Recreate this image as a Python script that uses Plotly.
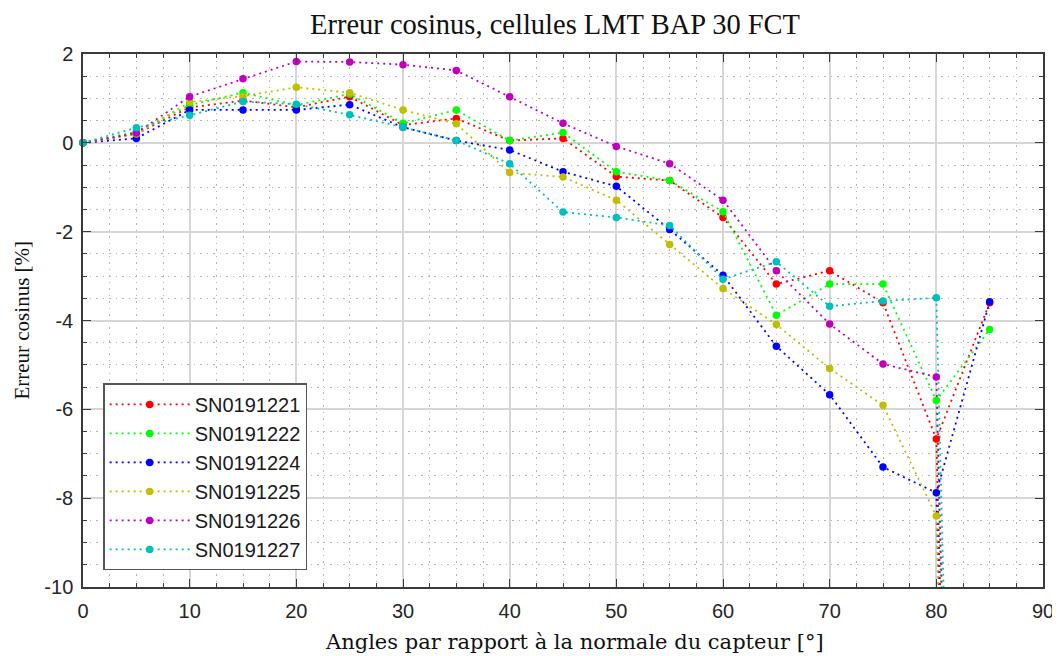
import plotly.graph_objects as go

angles = [0, 5, 10, 15, 20, 25, 30, 35, 40, 45, 50, 55, 60, 65, 70, 75, 80, 85]
sn0191221 = [0, 0.20, 0.80, 0.95, 0.80, 1.04, 0.40, 0.55, 0.05, 0.10, -0.76, -0.85, -1.68, -3.18, -2.88, -3.60, -6.67, -3.60]
sn0191222 = [0, 0.25, 0.85, 1.13, 0.85, 1.10, 0.44, 0.74, 0.05, 0.23, -0.65, -0.85, -1.55, -3.88, -3.18, -3.18, -5.80, -4.20]
sn0191224 = [0, 0.10, 0.74, 0.74, 0.74, 0.86, 0.35, 0.05, -0.16, -0.65, -0.98, -1.95, -2.98, -4.58, -5.67, -7.30, -7.88, -3.58]
sn0191225 = [0, 0.20, 0.92, 1.05, 1.25, 1.13, 0.74, 0.43, -0.67, -0.77, -1.29, -2.29, -3.28, -4.09, -5.08, -5.91, -8.40, None]
sn0191226 = [0, 0.22, 1.04, 1.44, 1.83, 1.82, 1.76, 1.63, 1.04, 0.44, -0.08, -0.47, -1.29, -2.88, -4.08, -4.98, -5.27, None]
sn0191227 = [0, 0.34, 0.62, 0.93, 0.87, 0.63, 0.35, 0.05, -0.47, -1.56, -1.68, -1.86, -3.07, -2.68, -3.68, -3.56, -3.49, None]

# value at 90° (off-scale), joined from the 80° point
angle_90 = 90
err_90 = [-100, -100, -100, -100, -100, -100]

names = ["SN0191221", "SN0191222", "SN0191224", "SN0191225", "SN0191226", "SN0191227"]
series = [sn0191221, sn0191222, sn0191224, sn0191225, sn0191226, sn0191227]
colors = ["#ff0000", "#00ff00", "#0000ff", "#bfbf00", "#bf00bf", "#00bfbf"]

x_ticks = [0, 10, 20, 30, 40, 50, 60, 70, 80, 90]
y_ticks = [2, 0, -2, -4, -6, -8, -10]
y_ticktext = ["2", "0", "-2", "-4", "-6", "-8", "-10"]

title_text = "Erreur cosinus, cellules LMT BAP 30 FCT"
x_title = "Angles par rapport à la normale du capteur [°]"
y_title = "Erreur cosinus [%]"

DOT = "2px,4px"

fig = go.Figure()

# off-scale segments 80° -> 90°
i80 = angles.index(80)
for name, ys, c, e90 in zip(names, series, colors, err_90):
    fig.add_trace(go.Scatter(
        x=[angles[i80], angle_90], y=[ys[i80], e90], mode="lines",
        line=dict(color=c, width=1.8, dash=DOT), showlegend=False,
        hoverinfo="skip"))

for name, ys, c in zip(names, series, colors):
    fig.add_trace(go.Scatter(
        x=angles, y=ys, name=name, mode="lines+markers",
        line=dict(color=c, width=1.8, dash=DOT),
        marker=dict(color=c, size=7.5),
        cliponaxis=False, connectgaps=False))

axis_common = dict(
    showline=True, linecolor="#3a3a3a", linewidth=1.5, mirror="allticks",
    ticks="inside", ticklen=8, tickwidth=1.3, tickcolor="#3a3a3a",
    showgrid=True, gridcolor="#d6d6d6", gridwidth=1.5,
    zeroline=False, automargin=False,
    tickfont=dict(family="Liberation Sans, Arial", size=20, color="#262626"),
)
minor_common = dict(ticks="inside", ticklen=4, tickcolor="#3a3a3a", tickwidth=1.2,
                    showgrid=True, gridcolor="#b4b4b4", griddash="1.5px,5px", gridwidth=1)

fig.update_xaxes(range=[0, 90], tickvals=x_ticks, ticklabelstandoff=5,
                 minor=dict(dtick=2.5, **minor_common), **axis_common)
fig.update_yaxes(range=[-10, 2], tickvals=y_ticks, ticktext=y_ticktext, ticklabelstandoff=4,
                 minor=dict(dtick=0.5, **minor_common), **axis_common)

# axis titles
fig.add_annotation(text=x_title, xref="paper", yref="paper", x=0.512, y=-0.1024,
                   xanchor="center", yanchor="middle", showarrow=False,
                   font=dict(family="DejaVu Serif", size=21, color="#111111"))
fig.add_annotation(text=y_title, xref="paper", yref="paper", x=-0.0645, y=0.5,
                   xanchor="center", yanchor="middle", showarrow=False, textangle=-90,
                   font=dict(family="Liberation Serif, Times New Roman", size=21, color="#111111"))

# the page adds an 8px body margin, compensated here
fig.update_layout(
    width=1060, height=656,
    margin=dict(l=75, r=25, t=46, b=77),
    paper_bgcolor="white", plot_bgcolor="white",
    title=dict(text=title_text,
               font=dict(family="Liberation Serif, Times New Roman", size=28.5, color="#111111"),
               xref="paper", x=0.4917, xanchor="center", y=0.991, yanchor="top",
               pad=dict(t=0, b=0)),
    legend=dict(x=0.021, y=0.382, xanchor="left", yanchor="top",
                bgcolor="white", bordercolor="#555555", borderwidth=1.5,
                font=dict(family="Liberation Sans, Arial", size=20, color="#1a1a1a"),
                itemwidth=80),
    showlegend=True,
)

fig.write_html("out.html")
